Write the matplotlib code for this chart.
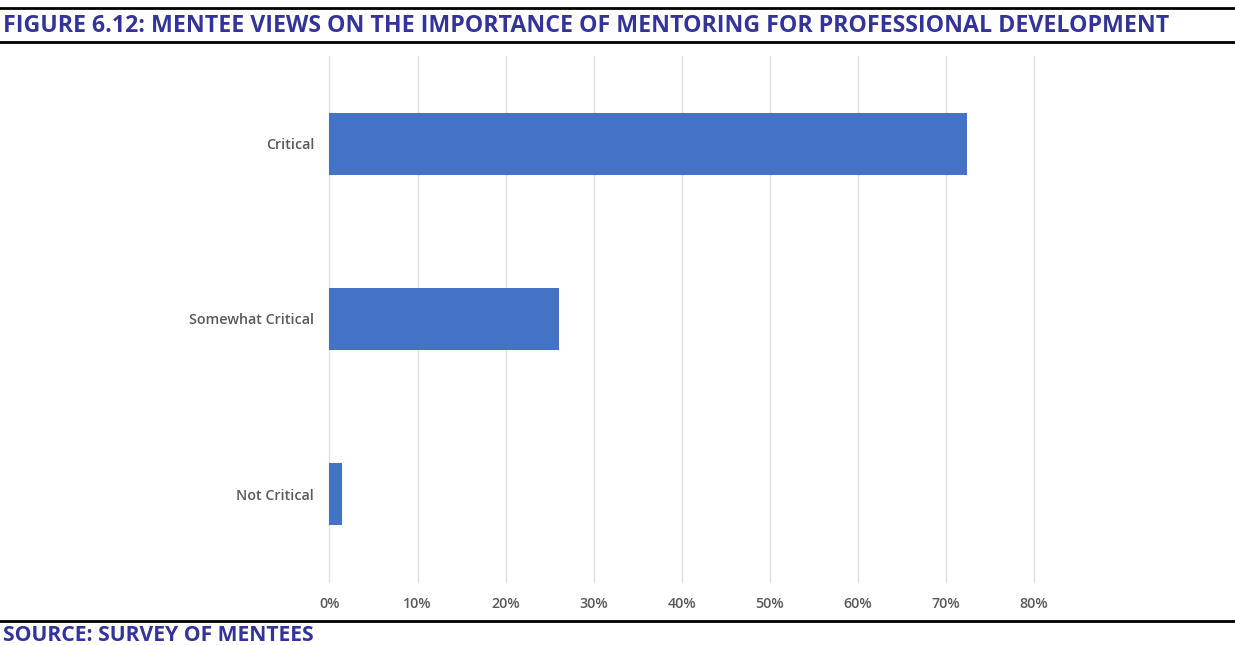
import matplotlib
matplotlib.use("Agg")
from matplotlib import pyplot as plt
from matplotlib.ticker import PercentFormatter

# data
categories = ["Critical", "Somewhat Critical", "Not Critical"]
shares = [0.724, 0.261, 0.014]
x_ticks = [0, 0.1, 0.2, 0.3, 0.4, 0.5, 0.6, 0.7, 0.8]

title = "FIGURE 6.12: MENTEE VIEWS ON THE IMPORTANCE OF MENTORING FOR PROFESSIONAL DEVELOPMENT"
source = "SOURCE: SURVEY OF MENTEES"

navy = "#333399"
bar_blue = "#4472C4"
grey_text = "#595959"

plt.rcParams["font.family"] = ["Open Sans", "DejaVu Sans"]

fig = plt.figure(figsize=(12.35, 6.45), dpi=100)
ax = fig.add_axes([329.5 / 1235, 1 - 582 / 645, (1034 - 329.5) / 1235, (582 - 56) / 645])

ypos = list(range(len(categories)))
ax.barh(ypos, shares, height=0.355, color=bar_blue, zorder=3)
ax.set_ylim(len(categories) - 0.5, -0.5)
ax.set_xlim(0, 0.8)
ax.set_yticks(ypos)
ax.set_yticklabels(categories)
ax.set_xticks(x_ticks)
ax.xaxis.set_major_formatter(PercentFormatter(1.0, decimals=0))
ax.tick_params(axis="both", length=0, colors=grey_text, labelsize=10.3)
ax.tick_params(axis="y", pad=11)
ax.tick_params(axis="x", pad=10.5)
for lab in ax.get_xticklabels() + ax.get_yticklabels():
    lab.set_fontweight("semibold")
ax.grid(axis="x", color="#E0E0E0", linewidth=1, zorder=0)
for gl in ax.get_xgridlines():
    gl.set_clip_on(False)
for s in ax.spines.values():
    s.set_visible(False)

# header / footer rules and text
for y in (1 - 7.5 / 645, 1 - 42 / 645, 1 - 621 / 645):
    fig.add_artist(plt.Line2D([0, 1], [y, y], color="black", linewidth=2, transform=fig.transFigure))
fig.text(3 / 1235, 1 - 26.5 / 645, title, color=navy, fontsize=16.7, fontweight="bold",
         ha="left", va="center")
fig.text(3 / 1235, 1 - 635.5 / 645, source, color=navy, fontsize=15.2, fontweight="bold",
         ha="left", va="center")

fig.savefig("out.png", dpi=100)
